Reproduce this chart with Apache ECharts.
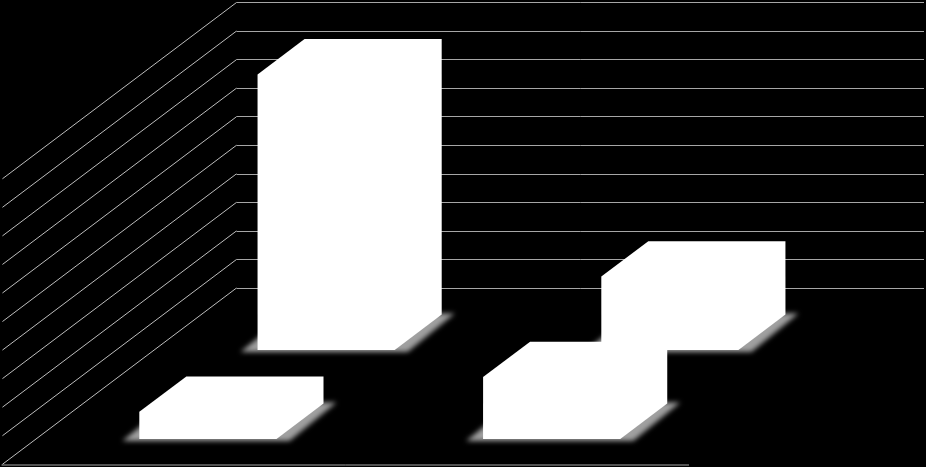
<!DOCTYPE html>
<html><head><meta charset="utf-8">
<style>html,body{margin:0;padding:0;background:#000;overflow:hidden}#c{width:926px;height:467px}</style>
<script src="https://cdn.jsdelivr.net/npm/echarts@6/dist/echarts.min.js"></script>
</head><body><div id="c"></div>
<script>
const categories = ['1', '2'];
const tickValues = [0,10,20,30,40,50,60,70,80,90,100];
const backRowValues = [96.5, 25.7];
const frontRowValues = [9.5, 21.7];

// oblique projection of the 3D floor (pixels between the back wall and the front edge)
const DX = 235, DY = 177, BAR_DEPTH = 0.2, BAR_FILL = 0.399;
const ROW_BACK = 0.65, ROW_FRONT = 0.147;
const LINE = '#a6a6a6';
const DIAG = '#bdbdbd';
const OFF = 3000;

function project(api, cat, offset, val, d) {
  const p = api.coord([cat, val]);
  const slot = api.size([1, 0])[0];
  return [p[0] + offset * slot - DX * (1 - d), p[1] + DY * (1 - d)];
}
function line(a, b, color) {
  return { type: 'line', shape: { x1: a[0], y1: a[1], x2: b[0], y2: b[1] },
    style: { stroke: color, lineWidth: 1, fill: null }, silent: true };
}
function renderWalls(params, api) {
  const v = api.value(0);
  return { type: 'group', children: [
    line(project(api, 0, -0.5, v, 1), project(api, 0, -0.5, v, 0.004), DIAG)
  ]};
}
function renderFloor(params, api) {
  return line(project(api, 0, -0.5, 0, 0), project(api, 1, 0.5, 0, 0), LINE);
}
function renderBar(params, api) {
  const cat = api.value(0), val = api.value(1), d = api.value(2);
  const h = BAR_FILL / 2;
  const fl0 = project(api, cat, -h, 0, d), fr0 = project(api, cat, h, 0, d);
  const br0 = project(api, cat, h, 0, d + BAR_DEPTH), bl0 = project(api, cat, -h, 0, d + BAR_DEPTH);
  const fl1 = project(api, cat, -h, val, d), fr1 = project(api, cat, h, val, d);
  const br1 = project(api, cat, h, val, d + BAR_DEPTH), bl1 = project(api, cat, -h, val, d + BAR_DEPTH);
  // soft floor shadow: the shape itself sits off-canvas, only its blurred shadow shows
  const shadow = [[fl0[0]-17-OFF, fl0[1]+2], [fr0[0]+13-OFF, fr0[1]+2], [br0[0]+13-OFF, br0[1]-1], [bl0[0]-17-OFF, bl0[1]-1]];
  return { type: 'group', children: [
    { type: 'polygon', shape: { points: shadow }, silent: true,
      style: { fill: '#fff', shadowBlur: 5, shadowColor: '#a0a0a0', shadowOffsetX: OFF } },
    { type: 'polygon', shape: { points: [fl0, fr0, br0, br1, bl1, fl1] }, silent: true,
      style: { fill: '#ffffff' } }
  ]};
}
const barData = [];
backRowValues.forEach((v, i) => barData.push([i, v, ROW_BACK]));
frontRowValues.forEach((v, i) => barData.push([i, v, ROW_FRONT]));

const chart = echarts.init(document.getElementById('c'), null, { renderer: 'canvas' });
chart.setOption({
  animation: false,
  backgroundColor: '#000000',
  grid: { left: 236.5, top: 2.5, width: 687.5, height: 285.5, containLabel: false },
  xAxis: { type: 'category', data: categories, boundaryGap: true,
    axisLine: { show: false }, axisTick: { show: false }, axisLabel: { show: false }, splitLine: { show: false } },
  yAxis: { type: 'value', min: 0, max: 100, interval: 10,
    axisLine: { show: false }, axisTick: { show: false }, axisLabel: { show: false },
    splitLine: { show: true, lineStyle: { color: LINE, width: 1 } } },
  series: [
    { type: 'custom', name: 'walls', renderItem: renderWalls, data: tickValues.map(v => [v]), encode: { y: 0 }, clip: false, silent: true },
    { type: 'custom', name: 'floor', renderItem: renderFloor, data: [[0]], clip: false, silent: true },
    { type: 'custom', name: 'bars', renderItem: renderBar, data: barData, encode: { x: 0, y: 1 }, clip: false, silent: true }
  ]
});
</script></body></html>
